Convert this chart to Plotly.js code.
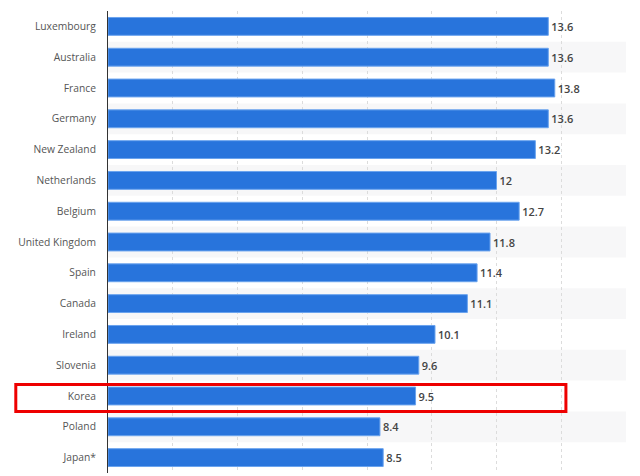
<!DOCTYPE html>
<html>
<head>
<meta charset="utf-8">
<script src="https://cdn.plot.ly/plotly-3.0.1.min.js"></script>
<style>
  html, body { margin: 0; padding: 0; background: #fff; }
  #chart { width: 640px; height: 476px; }
</style>
</head>
<body>
<div id="chart"></div>
<script>
const countries = ["Luxembourg", "Australia", "France", "Germany", "New Zealand",
  "Netherlands", "Belgium", "United Kingdom", "Spain", "Canada",
  "Ireland", "Slovenia", "Korea", "Poland", "Japan*"];
const values = [13.6, 13.6, 13.8, 13.6, 13.2, 12, 12.7, 11.8, 11.4, 11.1, 10.1, 9.6, 9.5, 8.4, 8.5];
const highlight = "Korea";

// alternating light bands behind every second row
var shapes = [];
countries.forEach(function (c, i) {
  if (i % 2 === 1) {
    shapes.push({
      type: "rect", layer: "below",
      xref: "paper", x0: 0, x1: 1,
      yref: "y", y0: i - 0.5, y1: i + 0.5,
      fillcolor: "#f7f7f8", line: { width: 0 }
    });
  }
});

// red frame round the highlighted row
var hi = countries.indexOf(highlight);
shapes.push({
  type: "rect",
  xref: "paper", x0: -0.178, x1: 0.884,
  yref: "y", y0: hi - 0.37, y1: hi + 0.5,
  fillcolor: "rgba(0,0,0,0)",
  line: { color: "#ee0000", width: 3 }
});

var data = [{
  type: "bar",
  orientation: "h",
  x: values,
  y: countries,
  text: values.map(String),
  textposition: "outside",
  cliponaxis: false,
  textfont: { family: "Open Sans, sans-serif", size: 11, color: "#444", weight: 600 },
  marker: { color: "#2874dc", line: { color: "#6aa3ee", width: 1 } },
  hoverinfo: "none"
}];

var layout = {
  width: 640,
  height: 476,
  margin: { l: 108, r: 14, t: 11, b: 3 },
  paper_bgcolor: "#fff",
  plot_bgcolor: "rgba(0,0,0,0)",
  bargap: 0.42,
  showlegend: false,
  font: { family: "Open Sans, sans-serif", size: 11, color: "#555" },
  xaxis: {
    range: [0, 16],
    dtick: 2,
    showticklabels: false,
    showgrid: true,
    gridcolor: "#dcdcdc",
    griddash: "dot",
    zeroline: false,
    showline: false,
    fixedrange: true
  },
  yaxis: {
    type: "category",
    autorange: "reversed",
    showline: true,
    linecolor: "#333",
    linewidth: 1,
    showgrid: false,
    ticks: "",
    ticklabelstandoff: 9,
    tickfont: { family: "Open Sans, sans-serif", size: 10.3, color: "#555" },
    fixedrange: true
  },
  shapes: shapes
};

Plotly.newPlot("chart", data, layout, { displayModeBar: false, staticPlot: true });
</script>
</body>
</html>
